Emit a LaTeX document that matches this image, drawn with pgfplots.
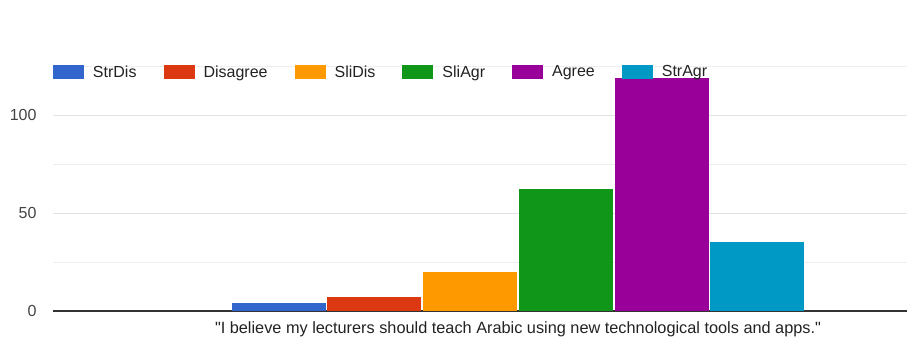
\documentclass[border=0pt]{standalone}
\usepackage{pgfplots}
\pgfplotsset{compat=1.18}
\usepackage{fontspec}
\setmainfont{Liberation Sans}[Ligatures=TeXOff]

\definecolor{cStrDis}{HTML}{3366CC}
\definecolor{cDisagree}{HTML}{DC3912}
\definecolor{cSliDis}{HTML}{FF9900}
\definecolor{cSliAgr}{HTML}{109618}
\definecolor{cAgree}{HTML}{990099}
\definecolor{cStrAgr}{HTML}{0099C6}
\definecolor{gridmaj}{HTML}{E2E2E2}
\definecolor{gridmin}{HTML}{EEEEEE}
\definecolor{ticktext}{HTML}{444444}
\definecolor{labeltext}{HTML}{222222}
\definecolor{baseline}{HTML}{333333}

\begin{document}
\begin{tikzpicture}
\useasboundingbox (-53pt,-32pt) rectangle (856pt,311pt);
\begin{axis}[
  at={(0pt,0pt)}, anchor=south west,
  scale only axis, width=854pt, height=245pt,
  xmin=-465, xmax=389, ymin=0, ymax=125,
  ybar=1.7pt, bar width=94,
  axis x line*=bottom, axis y line*=left,
  x axis line style={draw=baseline, line width=1.1pt},
  y axis line style={draw=none},
  major tick length=0pt, minor tick length=0pt,
  xtick={0},
  xticklabels={"I believe my lecturers should teach Arabic using new technological tools and apps."},
  xticklabel style={font=\fontsize{16.3}{19}\selectfont, text=labeltext, yshift=-7pt},
  ytick={0,50,100},
  minor ytick={25,75,125},
  ymajorgrids, yminorgrids,
  major grid style={gridmaj, line width=0.9pt},
  minor grid style={gridmin, line width=0.9pt},
  yticklabel style={font=\fontsize{16}{19}\selectfont, text=ticktext, xshift=-13pt},
  /pgf/number format/assume math mode=true,
  legend columns=6,
  legend style={
    at={(0,1)}, anchor=west, yshift=-6pt,
    draw=none, fill=none, inner sep=0pt, outer sep=0pt,
    font=\fontsize{16}{19}\selectfont, text=labeltext,
    nodes={inner xsep=0pt, inner ysep=1pt},
    /tikz/every odd column/.append style={column sep=9pt},
    /tikz/every even column/.append style={column sep=27pt},
  },
  legend image code/.code={\fill[#1,draw=none] (0pt,-7pt) rectangle (31pt,7pt);},
]
\addplot[fill=cStrDis, draw=none] coordinates {(0,4)};
\addplot[fill=cDisagree, draw=none] coordinates {(0,7)};
\addplot[fill=cSliDis, draw=none] coordinates {(0,20)};
\addplot[fill=cSliAgr, draw=none] coordinates {(0,62)};
\addplot[fill=cAgree, draw=none] coordinates {(0,119)};
\addplot[fill=cStrAgr, draw=none] coordinates {(0,35)};
\legend{StrDis, Disagree, SliDis, SliAgr, Agree, StrAgr}
\end{axis}
\end{tikzpicture}
\end{document}
